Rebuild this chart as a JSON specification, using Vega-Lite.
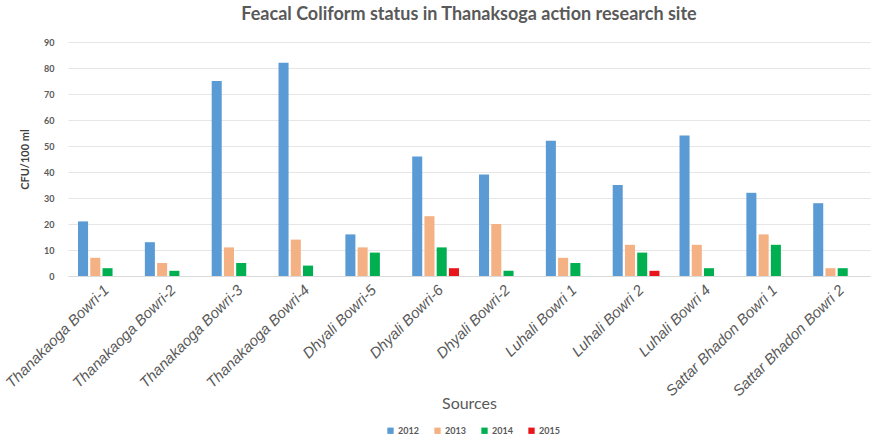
{
  "$schema": "https://vega.github.io/schema/vega-lite/v6.json",
  "width": 802,
  "height": 234,
  "autosize": "none",
  "padding": {"left": 68, "top": 42, "right": 4, "bottom": 164},
  "background": "white",
  "title": {
    "text": "Feacal Coliform status in Thanaksoga action research site",
    "font": "Lato",
    "fontSize": 18,
    "fontWeight": "bold",
    "color": "#595959",
    "anchor": "middle",
    "offset": 14
  },
  "data": {
    "values": [
      {"source": "Thanakaoga Bowri-1", "year": "2012", "cfu": 21},
      {"source": "Thanakaoga Bowri-1", "year": "2013", "cfu": 7},
      {"source": "Thanakaoga Bowri-1", "year": "2014", "cfu": 3},
      {"source": "Thanakaoga Bowri-2", "year": "2012", "cfu": 13},
      {"source": "Thanakaoga Bowri-2", "year": "2013", "cfu": 5},
      {"source": "Thanakaoga Bowri-2", "year": "2014", "cfu": 2},
      {"source": "Thanakaoga Bowri-3", "year": "2012", "cfu": 75},
      {"source": "Thanakaoga Bowri-3", "year": "2013", "cfu": 11},
      {"source": "Thanakaoga Bowri-3", "year": "2014", "cfu": 5},
      {"source": "Thanakaoga Bowri-4", "year": "2012", "cfu": 82},
      {"source": "Thanakaoga Bowri-4", "year": "2013", "cfu": 14},
      {"source": "Thanakaoga Bowri-4", "year": "2014", "cfu": 4},
      {"source": "Dhyali Bowri-5", "year": "2012", "cfu": 16},
      {"source": "Dhyali Bowri-5", "year": "2013", "cfu": 11},
      {"source": "Dhyali Bowri-5", "year": "2014", "cfu": 9},
      {"source": "Dhyali Bowri-6", "year": "2012", "cfu": 46},
      {"source": "Dhyali Bowri-6", "year": "2013", "cfu": 23},
      {"source": "Dhyali Bowri-6", "year": "2014", "cfu": 11},
      {"source": "Dhyali Bowri-6", "year": "2015", "cfu": 3},
      {"source": "Dhyali Bowri-2", "year": "2012", "cfu": 39},
      {"source": "Dhyali Bowri-2", "year": "2013", "cfu": 20},
      {"source": "Dhyali Bowri-2", "year": "2014", "cfu": 2},
      {"source": "Luhali Bowri 1", "year": "2012", "cfu": 52},
      {"source": "Luhali Bowri 1", "year": "2013", "cfu": 7},
      {"source": "Luhali Bowri 1", "year": "2014", "cfu": 5},
      {"source": "Luhali Bowri 2", "year": "2012", "cfu": 35},
      {"source": "Luhali Bowri 2", "year": "2013", "cfu": 12},
      {"source": "Luhali Bowri 2", "year": "2014", "cfu": 9},
      {"source": "Luhali Bowri 2", "year": "2015", "cfu": 2},
      {"source": "Luhali Bowri 4", "year": "2012", "cfu": 54},
      {"source": "Luhali Bowri 4", "year": "2013", "cfu": 12},
      {"source": "Luhali Bowri 4", "year": "2014", "cfu": 3},
      {"source": "Sattar Bhadon Bowri 1", "year": "2012", "cfu": 32},
      {"source": "Sattar Bhadon Bowri 1", "year": "2013", "cfu": 16},
      {"source": "Sattar Bhadon Bowri 1", "year": "2014", "cfu": 12},
      {"source": "Sattar Bhadon Bowri 2", "year": "2012", "cfu": 28},
      {"source": "Sattar Bhadon Bowri 2", "year": "2013", "cfu": 3},
      {"source": "Sattar Bhadon Bowri 2", "year": "2014", "cfu": 3}
    ]
  },
  "mark": {"type": "bar"},
  "encoding": {
    "x": {
      "field": "source",
      "type": "nominal",
      "sort": null,
      "scale": {"paddingInner": 0.3, "paddingOuter": 0.15},
      "axis": {
        "title": "Sources",
        "titleFont": "Lato",
        "titleFontSize": 16,
        "titleFontWeight": "normal",
        "titleColor": "#595959",
        "titleY": 127,
        "titleBaseline": "middle",
        "labelAngle": -45,
        "labelFont": "Liberation Sans",
        "labelFontStyle": "italic",
        "labelFontSize": 15,
        "labelColor": "#595959",
        "labelPadding": 6,
        "ticks": false,
        "domainColor": "#d9d9d9",
        "grid": false
      }
    },
    "xOffset": {
      "field": "year",
      "type": "nominal",
      "scale": {"domain": ["2012", "2013", "2014", "2015"], "paddingInner": 0.18}
    },
    "y": {
      "field": "cfu",
      "type": "quantitative",
      "scale": {"domain": [0, 90], "nice": false},
      "axis": {
        "title": "CFU/100 ml",
        "titleFont": "Lato",
        "titleFontSize": 11,
        "titleFontWeight": "bold",
        "titleColor": "#404040",
        "titleX": -38,
        "values": [0, 10, 20, 30, 40, 50, 60, 70, 80, 90],
        "labelFont": "Lato",
        "labelFontSize": 9,
        "labelFontWeight": "bold",
        "labelColor": "#595959",
        "labelPadding": 14,
        "domain": false,
        "ticks": false,
        "gridColor": "#e6e6e6"
      }
    },
    "color": {
      "field": "year",
      "type": "nominal",
      "scale": {
        "domain": ["2012", "2013", "2014", "2015"],
        "range": ["#5B9BD5", "#F4B183", "#00B050", "#E8151B"]
      },
      "legend": {
        "title": null,
        "orient": "none",
        "direction": "horizontal",
        "legendX": 318,
        "legendY": 384,
        "symbolType": "square",
        "symbolSize": 40,
        "symbolStrokeWidth": 0,
        "labelFont": "Lato",
        "labelFontSize": 9,
        "labelFontWeight": "bold",
        "labelColor": "#595959",
        "columnPadding": 14,
        "labelOffset": 3
      }
    }
  },
  "config": {"view": {"stroke": null}}
}
